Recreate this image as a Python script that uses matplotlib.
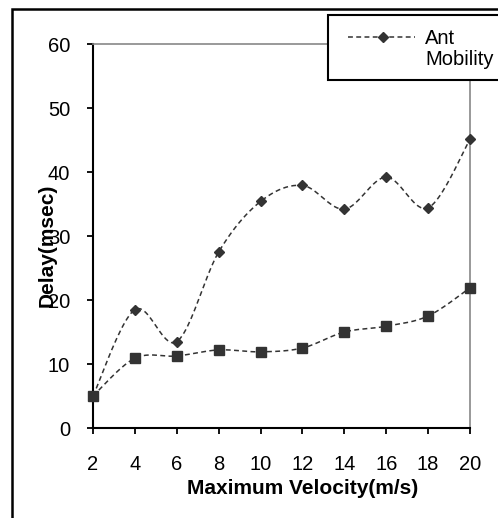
import matplotlib
matplotlib.use('Agg')
import matplotlib.pyplot as plt
from matplotlib.patches import Rectangle
from matplotlib.lines import Line2D
import numpy as np

# ---- Data ----
velocity = [2, 4, 6, 8, 10, 12, 14, 16, 18, 20]
ant_mobility = [5.0, 18.5, 13.5, 27.5, 35.4, 37.9, 34.2, 39.2, 34.4, 45.1]
other_delay = [5.0, 10.9, 11.25, 12.2, 11.9, 12.5, 15.0, 15.9, 17.5, 21.9]
y_ticks = [0, 10, 20, 30, 40, 50, 60]
legend_label = 'Ant\nMobility'

plt.rcParams['font.family'] = ['Liberation Sans', 'DejaVu Sans']

W, H = 498, 518


def smooth(xs, ys, steps=24):
    # Excel-like smoothed line: cubic bezier with Catmull-Rom control points
    xs = np.asarray(xs, float)
    ys = np.asarray(ys, float)
    px = np.concatenate([[xs[0]], xs, [xs[-1]]])
    py = np.concatenate([[ys[0]], ys, [ys[-1]]])
    outx, outy = [], []
    t = np.linspace(0, 1, steps)
    for i in range(1, len(px) - 2):
        p0 = np.array([px[i], py[i]])
        p3 = np.array([px[i + 1], py[i + 1]])
        c1 = p0 + (np.array([px[i + 1], py[i + 1]]) - np.array([px[i - 1], py[i - 1]])) / 6
        c2 = p3 - (np.array([px[i + 2], py[i + 2]]) - np.array([px[i], py[i]])) / 6
        b = ((1 - t) ** 3)[:, None] * p0 + (3 * (1 - t) ** 2 * t)[:, None] * c1 \
            + (3 * (1 - t) * t ** 2)[:, None] * c2 + (t ** 3)[:, None] * p3
        outx.extend(b[:, 0])
        outy.extend(b[:, 1])
    return outx, outy


fig = plt.figure(figsize=(W / 100, H / 100), dpi=100)
ax = fig.add_axes([93 / W, 1 - 428 / H, (470 - 93) / W, (428 - 44) / H])

dash = (0, (3.2, 2.2))
line_color = '#333333'

sx, sy = smooth(velocity, ant_mobility)
ax.plot(sx, sy, linestyle=dash, color=line_color, linewidth=1.1, clip_on=False)
ax.plot(velocity, ant_mobility, linestyle='none', marker='D', markersize=5.2,
        color=line_color, clip_on=False, zorder=3)

sx2, sy2 = smooth(velocity, other_delay)
ax.plot(sx2, sy2, linestyle=dash, color=line_color, linewidth=1.1, clip_on=False)
ax.plot(velocity, other_delay, linestyle='none', marker='s', markersize=6.5,
        color=line_color, clip_on=False, zorder=3)

ax.set_xlim(velocity[0], velocity[-1])
ax.set_ylim(0, 60)
ax.set_xticks(velocity)
ax.set_yticks(y_ticks)
ax.tick_params(axis='both', direction='out', length=4.5, width=1.3, labelsize=14.5,
               color='black')
ax.tick_params(axis='x', pad=15)
ax.tick_params(axis='y', pad=12)

for side in ['left', 'bottom']:
    ax.spines[side].set_color('black')
    ax.spines[side].set_linewidth(1.5)
for side in ['top', 'right']:
    ax.spines[side].set_color('#888888')
    ax.spines[side].set_linewidth(1.2)

fig.text(303 / W, 1 - 488 / H, 'Maximum Velocity(m/s)', ha='center', va='center',
         fontsize=15, fontweight='bold')
# the y label sits on top of the tick labels, as in the original chart
fig.text(47 / W, 1 - 245 / H, 'Delay(msec)', ha='center', va='center',
         fontsize=15, fontweight='bold', rotation=90)

# outer chart frame (runs past the right and bottom edges)
fig.patches.append(Rectangle((12 / W, -0.05), 1.1, 1 - 9 / H + 0.05,
                             transform=fig.transFigure, fill=False,
                             edgecolor='black', linewidth=1.8))

# legend box (also clipped by the right edge)
fig.patches.append(Rectangle((328 / W, 1 - 80 / H), 0.5, (80 - 15) / H,
                             transform=fig.transFigure, facecolor='white',
                             edgecolor='black', linewidth=1.5, zorder=5))
fig.lines.append(Line2D([348 / W, 415 / W], [1 - 37 / H, 1 - 37 / H],
                        transform=fig.transFigure, linestyle=dash,
                        color=line_color, linewidth=1.1, zorder=6))
fig.lines.append(Line2D([383 / W], [1 - 37 / H], transform=fig.transFigure,
                        marker='D', markersize=5.2, color=line_color, zorder=6))
fig.text(425 / W, 1 - 49 / H, legend_label, ha='left', va='center', fontsize=14.5,
         linespacing=1.15, zorder=7)

plt.savefig('out.png', dpi=100)
